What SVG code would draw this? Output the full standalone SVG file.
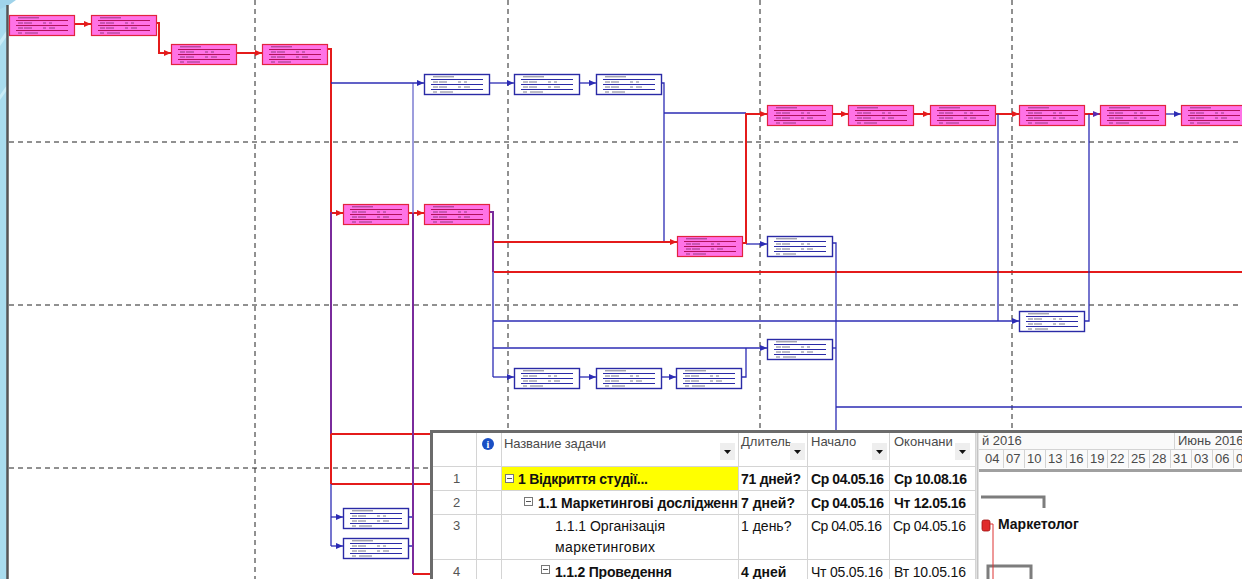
<svg xmlns="http://www.w3.org/2000/svg" xmlns:xlink="http://www.w3.org/1999/xlink" width="1242" height="579" viewBox="0 0 1242 579">
<style>
.grid{stroke:#222;stroke-width:1;stroke-dasharray:5 4;fill:none}
.red{stroke:#e41b1b;stroke-width:2;fill:none}
.pur{stroke:#7a2b9c;stroke-width:2;fill:none}
.blu{stroke:#2c2cb4;stroke-width:1.3;fill:none}
.lav{stroke:#7c7cd2;stroke-width:1.5;fill:none}
.ar-r{marker-end:url(#mr)}
.ar-b{marker-end:url(#mb)}
.ar-p{marker-end:url(#mp)}
.tx{font-family:"Liberation Sans",Arial,sans-serif;font-size:14px;fill:#111}
.b{font-weight:bold}
.hd{font-family:"Liberation Sans",Arial,sans-serif;font-size:13px;fill:#4a4a4a}
.num{font-family:"Liberation Sans",Arial,sans-serif;font-size:13px;fill:#555}
.cell{stroke:#d4d4d4;stroke-width:1;fill:none}
.brk{stroke:#7d7d7d;stroke-width:3;fill:none}
</style>
<defs>
<marker id="mr" markerWidth="7" markerHeight="6" refX="7" refY="3" orient="auto" markerUnits="userSpaceOnUse"><path d="M0,0L7,3L0,6z" fill="#e41b1b"/></marker>
<marker id="mb" markerWidth="7" markerHeight="6" refX="7" refY="3" orient="auto" markerUnits="userSpaceOnUse"><path d="M0,0L7,3L0,6z" fill="#2c2cb4"/></marker>
<marker id="mp" markerWidth="7" markerHeight="6" refX="7" refY="3" orient="auto" markerUnits="userSpaceOnUse"><path d="M0,0L7,3L0,6z" fill="#5a2ab0"/></marker>
<g id="critNode">
<rect x="0.5" y="0.5" width="65" height="20" fill="#ff72e6" stroke="#e2233f" stroke-width="1.2"/>
<path d="M7,5.5H59M7,10.5H59M7,15.5H59" stroke="#b3105a" stroke-width="1"/>
<path d="M9,2.8H30M9,8H14M15,8H23M34,8H37M40,8H43M9,13H14M15,13H23M34,13H37M40,13H46M9,18H13M16,18H29" stroke="#4a1a3a" stroke-width="0.8" opacity="0.75"/>
</g>
<g id="normNode">
<rect x="0.5" y="0.5" width="65" height="20" fill="#ffffff" stroke="#2a2aa6" stroke-width="1.4"/>
<path d="M7,5.5H59M7,10.5H59M7,15.5H59" stroke="#2a2aa6" stroke-width="1"/>
<path d="M9,2.8H30M9,8H14M15,8H23M34,8H37M40,8H43M9,13H14M15,13H23M34,13H37M40,13H46M9,18H13M16,18H29" stroke="#222244" stroke-width="0.8" opacity="0.75"/>
</g>
<clipPath id="cName"><rect x="502" y="433" width="236" height="146"/></clipPath>
<clipPath id="cGantt"><rect x="979" y="433" width="263" height="146"/></clipPath>
</defs>

<rect x="0" y="0" width="1242" height="579" fill="#ffffff"/>

<g id="decor">
<rect x="0" y="0" width="7" height="579" fill="#a9dcee"/>
<polygon points="0,0 16,0 9,5 0,9" fill="#9fd3ea"/>
<polygon points="0,40 7,30 7,36 0,46" fill="#c8ecf7"/>
<polygon points="0,95 7,85 7,90 0,100" fill="#c8ecf7"/>
<line x1="7.5" y1="5" x2="7.5" y2="579" stroke="#555" stroke-width="2.5"/>
</g>

<g id="grid">
<path class="grid" d="M9,142H1242M9,305H1242M9,468H1242"/>
<path class="grid" d="M255,0V579M508,0V579M760,0V579M1012,0V579"/>
</g>

<g id="connectors">
<path class="red ar-r" d="M75,24H91"/>
<path class="red ar-r" d="M156,23H159V53H171"/>
<path class="red ar-r" d="M237,53H262"/>
<path class="red" d="M328,49H331V212"/>
<path class="red ar-r" d="M331,213H343"/>
<path class="red ar-r" d="M408,213H424"/>
<path class="pur" d="M331,212V434"/>
<path class="red" d="M331,434V484M331,434H432M331,484H432"/>
<path class="blu" d="M331,484V546"/>
<path class="blu ar-b" d="M331,517H343"/>
<path class="blu ar-b" d="M331,546H343"/>
<path class="blu" d="M409,517H413M409,546H413"/>
<path class="lav" d="M413,83V213"/>
<path class="pur" d="M413,213V574"/>
<path class="red" d="M413,574H432"/>
<path class="blu ar-b" d="M331,83H424"/>
<path class="blu ar-b" d="M490,83H514"/>
<path class="blu ar-b" d="M580,83H596"/>
<path class="blu" d="M662,83H664V242M664,113H746"/>
<path class="pur" d="M490,212H493V272"/>
<path class="red ar-r" d="M494,242H677"/>
<path class="red" d="M494,272H1242"/>
<path class="blu" d="M493,272V377"/>
<path class="blu ar-b" d="M493,377H514"/>
<path class="blu ar-b" d="M493,321H1019"/>
<path class="blu ar-b" d="M493,348H767"/>
<path class="blu ar-b" d="M580,377H596"/>
<path class="blu ar-b" d="M662,377H676"/>
<path class="blu" d="M742,377H746V348"/>
<path class="blu" d="M833,348H836"/>
<path class="blu ar-b" d="M746,244H767"/>
<path class="red ar-r" d="M742,243H746V114H767"/>
<path class="blu" d="M833,243H836V432M836,407H1242"/>
<path class="red ar-r" d="M832,114H848"/>
<path class="red ar-r" d="M913,114H930"/>
<path class="red ar-r" d="M995,114H1019"/>
<path class="red ar-p" d="M1084,114H1100"/>
<path class="blu ar-b" d="M1165,114H1181"/>
<path class="blu" d="M998,114V321M1085,321H1089V114"/>
</g>

<g id="nodes">
<g id="n1" transform="translate(9,15)"><use xlink:href="#critNode"/></g>
<g id="n2" transform="translate(91,15)"><use xlink:href="#critNode"/></g>
<g id="n3" transform="translate(171,44)"><use xlink:href="#critNode"/></g>
<g id="n4" transform="translate(262,44)"><use xlink:href="#critNode"/></g>
<g id="p1" transform="translate(343,204)"><use xlink:href="#critNode"/></g>
<g id="p2" transform="translate(424,204)"><use xlink:href="#critNode"/></g>
<g id="c1" transform="translate(677,236)"><use xlink:href="#critNode"/></g>
<g id="r1" transform="translate(767,105)"><use xlink:href="#critNode"/></g>
<g id="r2" transform="translate(848,105)"><use xlink:href="#critNode"/></g>
<g id="r3" transform="translate(930,105)"><use xlink:href="#critNode"/></g>
<g id="r4" transform="translate(1019,105)"><use xlink:href="#critNode"/></g>
<g id="r5" transform="translate(1100,105)"><use xlink:href="#critNode"/></g>
<g id="r6" transform="translate(1181,105)"><use xlink:href="#critNode"/></g>
<g id="b1" transform="translate(424,74)"><use xlink:href="#normNode"/></g>
<g id="b2" transform="translate(514,74)"><use xlink:href="#normNode"/></g>
<g id="b3" transform="translate(596,74)"><use xlink:href="#normNode"/></g>
<g id="e1" transform="translate(767,236)"><use xlink:href="#normNode"/></g>
<g id="d1" transform="translate(1019,311)"><use xlink:href="#normNode"/></g>
<g id="f1" transform="translate(767,339)"><use xlink:href="#normNode"/></g>
<g id="g1" transform="translate(514,368)"><use xlink:href="#normNode"/></g>
<g id="g2" transform="translate(596,368)"><use xlink:href="#normNode"/></g>
<g id="g3" transform="translate(676,368)"><use xlink:href="#normNode"/></g>
<g id="l1" transform="translate(343,508)"><use xlink:href="#normNode"/></g>
<g id="l2" transform="translate(343,538)"><use xlink:href="#normNode"/></g>
</g>

<g id="table">
<rect x="430" y="430" width="812" height="149" fill="#ffffff"/>
<path class="cell" d="M476.5,433V579M501.5,433V579M738.5,433V579M807.5,433V579M889.5,433V579M975.5,433V579"/>
<path class="cell" d="M433,466.5H976M433,490.5H976M433,514.5H976M433,559.5H976"/>
<rect x="502" y="467" width="236" height="23" fill="#ffff00"/>
<circle cx="488" cy="444" r="6" fill="#1a4fc4"/>
<text x="488" y="448" text-anchor="middle" font-family="Liberation Serif,serif" font-weight="bold" font-size="10" fill="#fff">i</text>
<text class="hd" x="504" y="448" textLength="102">Название задачи</text>
<text class="hd" x="741" y="446">Длитель</text>
<text class="hd" x="811" y="446">Начало</text>
<text class="hd" x="894" y="446">Окончани</text>
<g fill="#eeeeee"><rect x="720" y="443" width="15" height="17"/><rect x="790" y="443" width="15" height="17"/><rect x="872" y="443" width="15" height="17"/><rect x="955" y="443" width="15" height="17"/></g>
<g fill="#111"><path d="M724,450h7l-3.5,4z"/><path d="M794,450h7l-3.5,4z"/><path d="M876,450h7l-3.5,4z"/><path d="M959,450h7l-3.5,4z"/></g>
<text class="num" x="453" y="483">1</text>
<text class="num" x="453" y="507">2</text>
<text class="num" x="453" y="530">3</text>
<text class="num" x="453" y="576">4</text>
<g fill="#fff" stroke="#777" stroke-width="1"><rect x="505.5" y="474.5" width="8" height="8"/><rect x="524.5" y="497.5" width="8" height="8"/><rect x="541.5" y="565.5" width="8" height="8"/></g>
<path d="M507,478.5h5M526,501.5h5M543,569.5h5" stroke="#555" stroke-width="1"/>
<g clip-path="url(#cName)">
<text class="tx b" x="518" y="484" textLength="130">1 Відкриття студії...</text>
<text class="tx b" x="538" y="508" textLength="208">1.1 Маркетингові дослідження</text>
<text class="tx" x="555" y="531" textLength="110">1.1.1 Організація</text>
<text class="tx" x="555" y="552" textLength="100">маркетингових</text>
<text class="tx b" x="555" y="577" textLength="117">1.1.2 Проведення</text>
</g>
<text class="tx b" x="741" y="484" textLength="60">71 дней?</text>
<text class="tx b" x="811" y="484" textLength="73">Ср 04.05.16</text>
<text class="tx b" x="894" y="484" textLength="73">Ср 10.08.16</text>
<text class="tx b" x="741" y="508">7 дней?</text>
<text class="tx b" x="811" y="508" textLength="73">Ср 04.05.16</text>
<text class="tx b" x="894" y="508" textLength="72">Чт 12.05.16</text>
<text class="tx" x="741" y="531">1 день?</text>
<text class="tx" x="811" y="531" textLength="71">Ср 04.05.16</text>
<text class="tx" x="893" y="531" textLength="73">Ср 04.05.16</text>
<text class="tx b" x="741" y="577">4 дней</text>
<text class="tx" x="811" y="577" textLength="72">Чт 05.05.16</text>
<text class="tx" x="894" y="577" textLength="72">Вт 10.05.16</text>

<g id="gantt" clip-path="url(#cGantt)">
<rect x="979" y="433" width="263" height="35" fill="#fafafa"/>
<path class="cell" d="M979,449.5H1242M1174.5,433V449M1003.5,449V468M1024.5,449V468M1045.5,449V468M1066.5,449V468M1087.5,449V468M1107.5,449V468M1128.5,449V468M1149.5,449V468M1170.5,449V468M1191.5,449V468M1212.5,449V468M1233.5,449V468"/>
<text class="hd" x="982" y="445">й 2016</text>
<text class="hd" x="1178" y="445">Июнь 2016</text>
<g class="hd"><text x="985" y="463">04</text><text x="1006" y="463">07</text><text x="1027" y="463">10</text><text x="1048" y="463">13</text><text x="1069" y="463">16</text><text x="1090" y="463">19</text><text x="1110" y="463">22</text><text x="1131" y="463">25</text><text x="1152" y="463">28</text><text x="1173" y="463">31</text><text x="1194" y="463">03</text><text x="1215" y="463">06</text><text x="1236" y="463">0</text></g>
<line x1="979" y1="470.5" x2="1242" y2="470.5" stroke="#a0a0a0" stroke-width="3"/>
<path class="brk" d="M981,497H1044V508"/>
<path class="brk" d="M988,579V566H1031V579"/>
<rect x="982" y="520" width="8" height="11" rx="2" fill="#e02a2a" stroke="#a01010" stroke-width="0.8"/>
<path d="M990,524H993V579" stroke="#d33" stroke-width="1" fill="none"/>
<text class="tx b" x="998" y="529" font-size="12">Маркетолог</text>
</g>
<line x1="977.5" y1="433" x2="977.5" y2="579" stroke="#c4c4c4" stroke-width="2"/>
<line x1="430" y1="431.5" x2="1242" y2="431.5" stroke="#6b6b6b" stroke-width="3"/>
<line x1="431.5" y1="430" x2="431.5" y2="579" stroke="#6b6b6b" stroke-width="3"/>
</g>
</svg>
